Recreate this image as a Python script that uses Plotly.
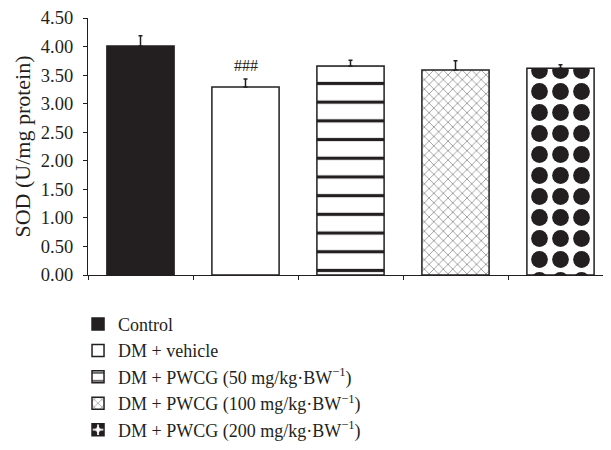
import plotly.graph_objects as go

groups = ["Control", "DM + vehicle", "DM + PWCG (50 mg/kg·BW<sup>−1</sup>)",
          "DM + PWCG (100 mg/kg·BW<sup>−1</sup>)", "DM + PWCG (200 mg/kg·BW<sup>−1</sup>)"]
sod_mean = [4.01, 3.29, 3.66, 3.59, 3.62]
sod_err = [0.18, 0.14, 0.10, 0.16, 0.06]
y_ticks = [0, 0.5, 1, 1.5, 2, 2.5, 3, 3.5, 4, 4.5]
sig_labels = ["", "###", "", "", ""]

DARK = "#231f20"
FONT = "Liberation Serif"

patterns = [
    dict(shape=""),
    dict(shape=""),
    dict(shape="-", size=18.7, solidity=0.17, fgcolor=DARK, bgcolor="white",
         fgopacity=1, fillmode="replace"),
    dict(shape="x", size=6.7, solidity=0.22, fgcolor="#8c8c8c", bgcolor="white",
         fgopacity=1, fillmode="replace"),
    dict(shape=".", size=21, solidity=0.5, fgcolor=DARK, bgcolor="white",
         fgopacity=1, fillmode="replace"),
]
fills = [DARK, "white", "white", "white", "white"]

fig = go.Figure()
for i, g in enumerate(groups):
    fig.add_trace(go.Bar(
        x=[i], y=[sod_mean[i]], name=g, width=0.64,
        marker=dict(color=fills[i], line=dict(color=DARK, width=1.5), pattern=patterns[i]),
        error_y=dict(type="data", array=[sod_err[i]], arrayminus=[0], symmetric=False,
                     color=DARK, thickness=1.5, width=2),
    ))
    if sig_labels[i]:
        fig.add_annotation(x=i, y=sod_mean[i] + sod_err[i], text=sig_labels[i],
                           showarrow=False, yanchor="bottom", yshift=3,
                           font=dict(family=FONT, size=16, color=DARK))

fig.update_layout(
    width=611, height=450,
    margin=dict(l=80, r=6, t=10, b=183),
    plot_bgcolor="white", paper_bgcolor="white",
    font=dict(family=FONT, size=18, color=DARK),
    showlegend=True,
    barmode="overlay",
    legend=dict(x=-0.019, y=-0.12, xanchor="left", yanchor="top",
                font=dict(family=FONT, size=18, color=DARK), itemwidth=30,
                tracegroupgap=0),
    xaxis=dict(range=[-0.5, 4.5], showticklabels=False, showgrid=False, zeroline=False,
               showline=True, linecolor=DARK, linewidth=1.2,
               ticks="outside", ticklen=4, tickcolor=DARK, automargin=False,
               tickvals=[-0.5, 0.5, 1.5, 2.5, 3.5, 4.5], fixedrange=True),
    yaxis=dict(range=[0, 4.5], tickvals=y_ticks, tickformat=".2f", showgrid=False,
               zeroline=False, showline=True, linecolor=DARK, linewidth=1.2,
               ticks="outside", ticklen=4, tickcolor=DARK, automargin=False,
               ticklabelstandoff=6, ticklabeloverflow="allow",
               title=dict(text="SOD (U/mg protein)", font=dict(family=FONT, size=22), standoff=4),
               tickfont=dict(family=FONT, size=18.5)),
)

fig.write_html("out.html")
